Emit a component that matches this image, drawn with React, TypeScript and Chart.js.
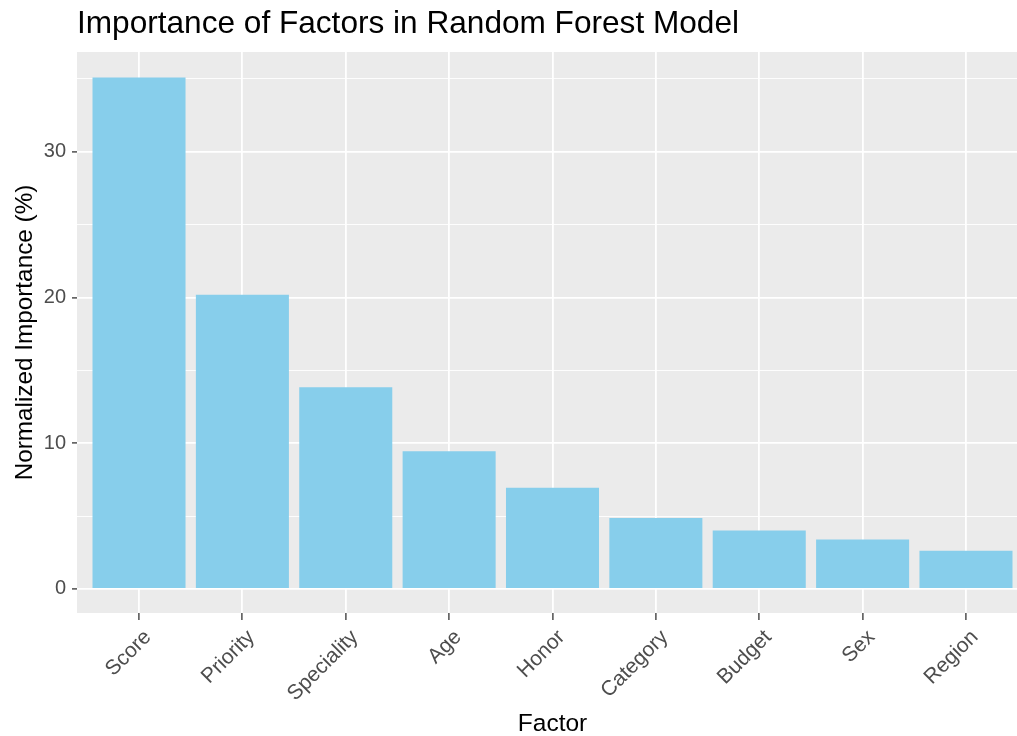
import React, { useEffect, useRef } from "react";
import { Chart, registerables } from "chart.js";

Chart.register(...registerables);

const categories = ["Score", "Priority", "Speciality", "Age", "Honor", "Category", "Budget", "Sex", "Region"];
const importance = [35.1, 20.2, 13.85, 9.45, 6.95, 4.87, 4.02, 3.4, 2.63];
const yTicks = [0, 10, 20, 30];

const FONT = "'Liberation Sans', Arial, sans-serif";

const panelBg = {
  id: "panelBg",
  beforeDraw(chart: any) {
    const { ctx, chartArea } = chart;
    ctx.save();
    ctx.fillStyle = "#EBEBEB";
    ctx.fillRect(chartArea.left, chartArea.top, chartArea.right - chartArea.left, chartArea.bottom - chartArea.top);
    ctx.restore();
  },
};

export default function App() {
  const ref = useRef<HTMLCanvasElement | null>(null);
  useEffect(() => {
    if (!ref.current) return;
    const chart = new Chart(ref.current, {
      type: "bar",
      data: {
        datasets: [
          {
            label: "Normalized Importance (%)",
            data: categories.map((c, i) => ({ x: i, y: importance[i] })),
            backgroundColor: "#87CEEB",
            borderWidth: 0,
            barPercentage: 0.9,
            categoryPercentage: 1.0,
          },
        ],
      },
      options: {
        responsive: false,
        animation: false,
        layout: { padding: { left: 0, right: 12, top: 0, bottom: 0 } },
        plugins: {
          legend: { display: false },
          tooltip: { enabled: false },
          title: {
            display: true,
            text: "Importance of Factors in Random Forest Model",
            align: "start",
            fullSize: false,
            color: "#000",
            font: { family: FONT, size: 31.6, weight: "normal", lineHeight: 1.2 },
            padding: { top: 5.5, bottom: 8.6 },
          },
        },
        scales: {
          x: {
            type: "linear",
            min: -0.6,
            max: 8.6,
            offset: false,
            afterBuildTicks: (scale: any) => {
              scale.ticks = scale.ticks.filter((t: any) => Number.isInteger(t.value) && t.value >= 0 && t.value < categories.length);
            },
            afterFit: (scale: any) => {
              scale.height = 123;
            },
            border: { display: false },
            grid: {
              offset: false,
              color: "#FFFFFF",
              lineWidth: 1.8,
              tickColor: "#333333",
              tickLength: 7,
              tickWidth: 1.3,
            },
            ticks: {
              stepSize: 1,
              autoSkip: false,
              maxRotation: 45,
              minRotation: 45,
              padding: 5,
              labelOffset: 9,
              color: "#4D4D4D",
              font: { family: FONT, size: 21 },
              callback: (v: any) => (Number.isInteger(v) ? categories[v] ?? "" : ""),
            },
            title: {
              display: true,
              text: "Factor",
              color: "#000",
              font: { family: FONT, size: 24.5, lineHeight: 1 },
              padding: { top: 0, bottom: 0 },
            },
          },
          y: {
            min: -1.65,
            max: 36.85,
            afterBuildTicks: (scale: any) => {
              scale.ticks = scale.ticks.filter((t: any) => t.value >= 0 && Math.abs(t.value % 5) < 1e-9);
            },
            afterFit: (scale: any) => {
              scale.width = 77;
            },
            border: { display: false },
            grid: {
              color: "#FFFFFF",
              lineWidth: (ctx: any) => (ctx.tick && yTicks.includes(ctx.tick.value) ? 1.8 : 0.9),
              tickColor: (ctx: any) => (ctx.tick && yTicks.includes(ctx.tick.value) ? "#333333" : "rgba(0,0,0,0)"),
              tickLength: 5,
              tickWidth: 1.3,
            },
            ticks: {
              stepSize: 5,
              padding: 6,
              color: "#4D4D4D",
              font: { family: FONT, size: 20 },
              callback: (v: any) => (yTicks.includes(v) ? String(v) : ""),
            },
            title: {
              display: true,
              text: "Normalized Importance (%)",
              color: "#000",
              font: { family: FONT, size: 24.3, lineHeight: 1.2 },
              padding: { top: 10.4, bottom: 0 },
            },
          },
        },
      },
      plugins: [panelBg],
    });
    return () => chart.destroy();
  }, []);
  return (
    <div style={{ position: "fixed", left: 0, top: 0, width: 1017, height: 736, overflow: "hidden", background: "#fff" }}>
      <canvas ref={ref} width={1040} height={736} style={{ display: "block" }} />
    </div>
  );
}
